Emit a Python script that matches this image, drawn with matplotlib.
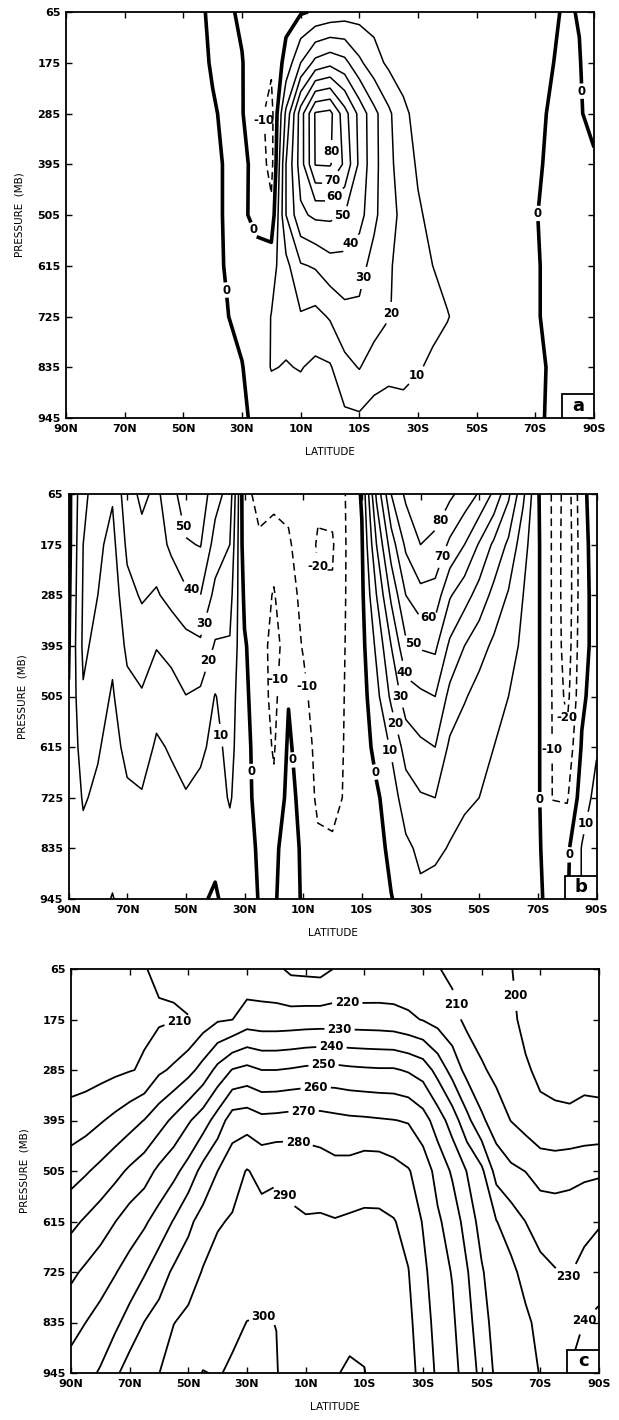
import numpy as np
import matplotlib.pyplot as plt
from matplotlib.patches import Rectangle

plt.rcParams['font.family'] = ['DejaVu Sans']

# grid of the three cross sections (latitude in degrees, N positive)
lats = [90, 85, 80, 75, 70, 65, 60, 55, 50, 45, 40, 35, 30, 25, 20, 15, 10, 5, 0,
        -5, -10, -15, -20, -25, -30, -35, -40, -45, -50, -55, -60, -65, -70, -75, -80, -85, -90]
pres = [65, 175, 285, 395, 505, 615, 725, 835, 945]

lat_ticks = [90, 70, 50, 30, 10, -10, -30, -50, -70, -90]
lat_labels = ['90N', '70N', '50N', '30N', '10N', '10S', '30S', '50S', '70S', '90S']

# panel a, one row per pressure level (90N -> 90S)
a_065 = [-2, -2, -2, -2, -2, -2, -2, -2, -1.5, -1, 1, 1, -1, -3, -4, -3, -1, 1, 3,
         5, 6, 6, 5, 4, 3, 3, 2, 2, 2, 2, 2, 1.5, 1.2, 1, -0.5, 0.2, 2]
a_175 = [-2, -2, -2, -2, -2, -2, -2, -2, -2, -1.5, 0.5, 1.5, 0.3, -4, -8, 3, 20, 33, 37,
         33, 22, 14, 8, 6, 5, 4, 3, 3, 2.5, 2, 2, 1.5, 1, 0.5, -1.5, -0.2, 2]
a_285 = [-2.5, -2.5, -2.5, -2.5, -2.5, -2.5, -2.5, -2.5, -2.5, -2, -0.5, 1, 0.5, -6, -14, 22, 55, 81, 83,
         64, 47, 33, 22, 12, 7, 5, 4, 3.5, 3, 2.5, 2, 2, 1.5, -0.5, -1, -0.3, 1]
a_395 = [-2.5, -2.5, -2.5, -2.5, -2.5, -2.5, -2.5, -2.5, -2.5, -2, -1, 0.5, 1.5, -2, -14, 30, 55, 80.5, 81,
         68, 48, 33, 23, 14, 9, 6, 5, 4, 3.5, 3, 2.5, 2, 1, -1, -1.5, -1, -0.5]
a_505 = [-2.5, -2.5, -2.5, -2.5, -2.5, -2.5, -2.5, -2.5, -2.5, -2, -1, 0.5, 2, -3, -7, 30, 48, 52, 52,
         50, 44, 32, 24, 17, 11, 8, 6, 5, 4, 3.5, 3, 2, 0.2, -1, -1.5, -1.5, -1.5]
a_615 = [-2, -2, -2, -2, -2, -2, -2, -2, -2, -2, -1.5, 0.5, 3, 4, 6, 17, 29, 31, 36,
         36, 33, 27, 21, 17, 14, 10, 7, 5, 4, 3, 2.5, 2, 0.5, -1, -1.5, -1.5, -1.5]
a_725 = [-2, -2, -2, -2, -2, -2, -2, -2, -2, -2, -1.5, -0.2, 2, 4, 10.3, 13, 19, 17, 21,
         27, 28, 25, 20.5, 17, 15, 13, 10.5, 7, 5, 4, 3, 2, 0.5, -1, -1.5, -1.5, -1.5]
a_835 = [-1.5, -1.5, -1.5, -1.5, -1.5, -1.5, -1.5, -1.5, -1.5, -1.5, -1.5, -1.5, -0.3, 4, 10.5, 9.5, 10.5, 8, 9,
         17, 20.5, 15, 13, 12, 11, 8, 6, 4, 3.5, 3, 2.5, 2, 0.8, -0.3, -1, -1, -1]
a_945 = [-1.5, -1.5, -1.5, -1.5, -1.5, -1.5, -1.5, -1.5, -1.5, -1.5, -1.5, -1.5, -1.5, 2, 4, 4, 5, 4, 6,
         8, 8.5, 6, 5, 7.5, 4, 3, 2.5, 2, 2, 1.5, 1.5, 1, 0.5, -0.3, -1, -1, -1]

# panel b, one row per latitude (65 -> 945 mb)
b_cols = [
    [-3, -3, -2, -1, 0.5, 1, 1, 1, 1],          # 90N
    [18, 20, 21, 22, 19, 15, 11, 7, 4],         # 85N
    [24, 22, 20, 17, 14, 11, 8, 6, 5],          # 80N
    [21, 17, 14, 12, 9, 6, 5, 4, 10.8],         # 75N
    [36, 32, 27, 22, 17, 13, 8, 5, 3],          # 70N
    [42, 37, 31, 25, 19, 15, 9, 6, 3],          # 65N
    [38, 35, 29, 20.5, 14, 8.5, 6, 4, 2],       # 60N
    [46, 42, 33, 23, 16, 11, 7, 4.5, 2],        # 55N
    [56, 49, 38, 26, 19.8, 15, 9, 5, 2],        # 50N
    [56, 50.5, 40, 28, 18, 12, 7, 4, 1],        # 45N
    [44, 36, 27, 19, 9.5, 7, 5, 2, -1],         # 40N
    [36, 30, 24, 19, 15, 13, 11, 6, 3],         # 35N
    [-8, -6, -2, 1, 2, 3, 3, 3, 3],             # 30N
    [-12, -9, -8, -6, -5, -4, -3, -1, -0.3],    # 25N
    [-11, -8.5, -10.3, -13, -13, -11, -8, -2, -1],  # 20N
    [-12, -9, -7, -6, -0.5, 1.5, 3, 4, 4],      # 15N
    [-15, -14, -12, -10.5, -8, -5, -3, -1.5, -1],   # 10N
    [-18, -21, -19, -16, -14, -13, -12, -8, -4],    # 5N
    [-17, -21, -19, -16, -14, -13, -12, -9, -4],    # 0
    [-9, -9, -9, -9, -9, -9, -9, -7, -4],       # 5S
    [1, -1, -2, -3, -4, -5, -5.5, -5, -4],      # 10S
    [42, 30, 20, 12, 7, 3, -1.5, -3, -3],       # 15S
    [70, 55, 42, 30, 22, 11, 5, 2, -0.3],       # 20S
    [82, 72, 60, 48, 35, 24, 15, 8, 3],         # 25S
    [88, 80, 67, 51, 38, 28, 19, 12, 8],        # 30S
    [85, 78, 66, 52, 40, 30, 20, 11.5, 7],      # 35S
    [82, 68, 51, 38, 27, 18, 13, 9.5, 6],       # 40S
    [76, 60, 44, 30, 21, 14, 11, 8, 5],         # 45S
    [69, 49, 36, 24, 16, 12, 10, 7, 4],         # 50S
    [58, 38, 27, 18, 13, 10, 8, 6, 3],          # 55S
    [42, 28, 19, 14, 10, 8, 6, 4, 2],           # 60S
    [22, 14, 10, 8, 6, 5, 4, 3, 1.5],           # 65S
    [1, 1.5, 1.5, 1.5, 1.5, 1.5, 1.5, 1.5, 1],  # 70S
    [-11, -11, -11, -11, -10.5, -10.3, -10.2, -6, -2],  # 75S
    [-26, -27, -27, -26, -23, -17, -11, -2, -1],    # 80S
    [-3, -4, -4, -3, -2, 1, 5, 10.5, 10.5],     # 85S
    [6, 5, 4, 3, 5, 9, 13, 14, 8],              # 90S
]

# panel c, one row per latitude (65 -> 945 mb)
c_cols = [
    [200, 203, 205, 214.3, 225.7, 237.5, 248, 256.3, 264.2],      # 90N
    [201, 203.5, 205.5, 216, 228.9, 241.3, 251.7, 260, 267],      # 85N
    [202, 204, 206.5, 219.1, 232.6, 245.3, 255.3, 263.6, 271],    # 80N
    [203, 205, 208, 222.4, 236.9, 249.8, 259.4, 267.8, 278],      # 75N
    [204, 206.5, 209.5, 226.1, 241.6, 254.8, 263.8, 273.8, 284.7],  # 70N
    [209.5, 208.5, 211, 230.3, 245.6, 258.5, 269.1, 280.2, 288],  # 65N
    [212, 208.5, 218.3, 235.9, 252.2, 264.1, 275.5, 283.8, 289.8],  # 60N
    [211, 209.5, 221.6, 242.1, 257.2, 270.6, 281.5, 289.7, 296],  # 55N
    [212, 209.8, 226.7, 248.8, 263.9, 278.1, 284.4, 293, 297],    # 50N
    [213, 215, 233.7, 255.3, 273.4, 283.3, 290.8, 295, 300.3],    # 45N
    [214, 218.9, 242.9, 264.4, 280, 289.1, 293.5, 297, 299.5],    # 40N
    [214, 219.9, 250.5, 275.1, 286, 290.9, 295.6, 298.5, 301],    # 35N
    [213, 224.6, 252.7, 275.9, 290.5, 293.4, 296.8, 300.1, 302],  # 30N
    [213, 223.9, 250, 272.9, 287.5, 293, 296.8, 300.5, 302.5],    # 25N
    [212, 223.9, 250, 273.4, 288.9, 292.6, 296.3, 299.9, 300.5],  # 20N
    [208, 224.2, 250.9, 274.2, 288.2, 291, 293, 295, 296],        # 15N
    [207.5, 224.6, 252.2, 274.1, 287, 290.5, 292, 294, 296],      # 10N
    [207, 224.8, 252.9, 274, 285.2, 291, 293, 295, 298],          # 5N
    [210.5, 224.8, 253, 272.8, 283.2, 290.5, 293, 296, 299.5],    # 0
    [211, 224.6, 252, 271.9, 283.6, 291.3, 294.8, 298, 301],      # 5S
    [211, 224.4, 251.4, 271.5, 285.7, 291.6, 294.7, 297.8, 300.3],  # 10S
    [211.5, 224.2, 251, 270.9, 285.7, 291.5, 293.5, 295, 296],    # 15S
    [212, 223.5, 251, 270.3, 283.5, 290.5, 292, 294, 295],        # 20S
    [212.5, 221.7, 249, 269.3, 280.7, 287.1, 290.3, 292, 293],    # 25S
    [212, 219.5, 245.7, 264.3, 275.5, 279.3, 282.5, 285, 287],    # 30S
    [210.5, 216.5, 236.5, 255.3, 266.6, 271.5, 274, 276, 278],    # 35S
    [208, 213.1, 226.3, 245.4, 258.6, 265.7, 269.5, 271.5, 273],  # 40S
    [205, 207.8, 216.7, 232.9, 249.6, 255.8, 260.8, 263.5, 266],  # 45S
    [203, 205, 211.3, 221.9, 242.1, 246.3, 251, 254, 257],        # 50S
    [201.5, 203.5, 207.5, 214.7, 226.2, 240.3, 244, 246, 248],    # 55S
    [200.3, 201.5, 204, 209.8, 222, 235, 242.5, 244.5, 246],      # 60S
    [197, 198, 200.9, 206, 219.8, 229.9, 236.5, 242, 244],        # 65S
    [197, 197.5, 198.5, 202, 216.5, 225.5, 233, 237, 239.5],      # 70S
    [196, 197, 198.5, 201, 216, 225, 230.5, 235, 237],            # 75S
    [194, 196, 198, 201, 217, 225, 229.5, 235, 240.5],            # 80S
    [193, 195, 198, 202, 218, 227, 233, 240.3, 244],              # 85S
    [192, 194, 197, 202.5, 218.5, 229, 236, 242, 246],            # 90S
]

levels_a = [-10, 0, 10, 20, 30, 40, 50, 60, 70, 80]
levels_b = [-20, -10, 0, 10, 20, 30, 40, 50, 60, 70, 80]
levels_c = [200, 210, 220, 230, 240, 250, 260, 270, 280, 290, 300]

# where the contour labels sit (lat, pressure)
labels_a = [(23.7, 300), (1.1, 367), (0.4, 426), (-1.6, 465), (-4.3, 507), (-8.4, 573),
            (-11.8, 642), (-19.9, 718), (-30.7, 860), (26.1, 537), (35.9, 668),
            (-70, 501), (-84.2, 237)]
labels_b = [(50, 135), (47.3, 264), (46, 343), (45.3, 421), (36.5, 588), (27.7, 668),
            (11.8, 642), (19.5, 468), (7.3, 483), (6, 222), (-36, 121), (-36.7, 200),
            (-32.6, 324), (-27.2, 392), (-24.5, 452), (-23.1, 505), (-21.8, 563),
            (-19.1, 624), (-15.7, 668), (-72.6, 729), (-79.4, 552), (-77.3, 621),
            (-86.5, 780), (-80.7, 849)]
labels_c = [(53.2, 178), (-4.2, 155), (-1.5, 204), (1.2, 240), (3.9, 276), (6.6, 321),
            (10.7, 376), (12.7, 446), (17.4, 558), (24.2, 818), (-42, 142),
            (-60.3, 124), (-78.5, 746), (-83.9, 822)]

field_a = np.array([a_065, a_175, a_285, a_395, a_505, a_615, a_725, a_835, a_945])
field_b = np.array(b_cols).T
field_c = np.array(c_cols).T


def panel(ax, field, levels, label_pos, letter, signed=True):
    lws, styles = [], []
    for lev in levels:
        if signed and lev == 0:
            lws.append(2.6)
            styles.append('solid')
        elif signed and lev < 0:
            lws.append(1.1)
            styles.append((0, (5, 3)))
        else:
            lws.append(1.1 if signed else 1.3)
            styles.append('solid')
    cs = ax.contour(lats, pres, field, levels=levels, colors='k',
                    linewidths=lws, linestyles=styles)
    ax.set_xlim(90, -90)
    ax.set_ylim(945, 65)
    txts = ax.clabel(cs, fmt=lambda v: '%d' % round(v), fontsize=8.5, inline=True,
                     inline_spacing=4, manual=label_pos)
    for t in txts:
        t.set_fontweight('bold')
        t.set_rotation(0)
    ax.set_xticks(lat_ticks)
    ax.set_xticklabels(lat_labels)
    ax.set_yticks(pres)
    ax.set_yticklabels([str(p) for p in pres])
    ax.tick_params(direction='in', length=4, width=1, top=True, right=True,
                   labelsize=8, pad=4)
    for t in ax.get_xticklabels() + ax.get_yticklabels():
        t.set_fontweight('bold')
    for s in ax.spines.values():
        s.set_linewidth(1.3)
    ax.set_xlabel('LATITUDE', fontsize=7.5, labelpad=10)
    ax.set_ylabel('PRESSURE  (MB)', fontsize=7.5, labelpad=9)
    ax.add_patch(Rectangle((0.94, 0), 0.06, 0.058, transform=ax.transAxes,
                           facecolor='white', edgecolor='k', lw=1.3, zorder=5))
    ax.text(0.97, 0.029, letter, transform=ax.transAxes, ha='center', va='center',
            fontsize=13, fontweight='bold', zorder=6)


fig = plt.figure(figsize=(6.19, 14.2), dpi=100)
ax_a = fig.add_axes([66 / 619, 1 - 418 / 1420, 528 / 619, 406 / 1420])
ax_b = fig.add_axes([68.5 / 619, 1 - 899 / 1420, 528 / 619, 405 / 1420])
ax_c = fig.add_axes([71 / 619, 1 - 1373 / 1420, 528 / 619, 404 / 1420])

panel(ax_a, field_a, levels_a, labels_a, 'a')
panel(ax_b, field_b, levels_b, labels_b, 'b')
panel(ax_c, field_c, levels_c, labels_c, 'c', signed=False)

fig.savefig('out.png', dpi=100)
